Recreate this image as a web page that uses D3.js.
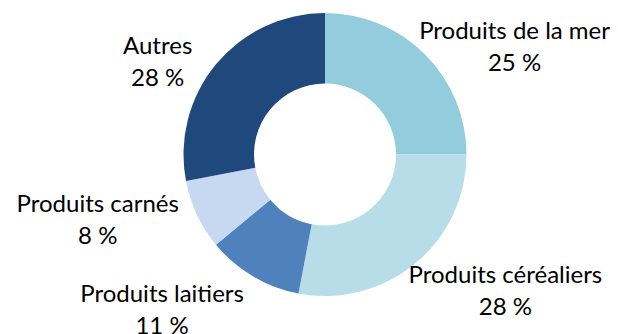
<!DOCTYPE html>
<html>
<head>
<meta charset="utf-8">
<script src="https://cdn.jsdelivr.net/npm/d3@7"></script>
<style>
  body { margin: 0; background: #fff; }
  svg { display: block; }
</style>
</head>
<body>
<div class="donut"></div>
<script>
var categories = ["Produits de la mer", "Produits céréaliers", "Produits laitiers", "Produits carnés", "Autres"];
var shares = [25, 28, 11, 8, 28];
var labels = ["25 %", "28 %", "11 %", "8 %", "28 %"];
var colors = ["#93CDDD", "#B7DEE8", "#4F81BD", "#C6D9F1", "#1F497D"];

var w = 618;
var h = 334;
var cx = 325, cy = 154.5;
var rOuter = 141.5, rInner = 71;

var svg = d3.select(".donut")
            .append("svg")
            .attr("width", w)
            .attr("height", h);

var g = svg.append("g")
           .attr("transform", `translate(${cx},${cy})`);

var color = d3.scaleOrdinal().domain(categories).range(colors);

var dataset = categories.map(function(c, i) {
    return {name: c, value: shares[i], label: labels[i]};
});

var pie = d3.pie()
            .sort(null)
            .value(function(d) { return d.value; });

var arc = d3.arc().innerRadius(rInner).outerRadius(rOuter);
var labelArc = d3.arc().innerRadius(rOuter + 10).outerRadius(rOuter + 10);

var arcs = pie(dataset);

g.selectAll(".slice")
  .data(arcs)
  .enter()
  .append("path")
  .attr("class", "slice")
  .attr("d", arc)
  .attr("fill", function(d) { return color(d.data.name); });

// small hand tweaks so labels sit where the original put them
var nudge = {
    "Produits de la mer": [-1, -1],
    "Produits céréaliers": [-1, -5],
    "Produits laitiers": [0, 0],
    "Produits carnés": [-5, 0],
    "Autres": [-12, 4]
};
var lineGap = 32;

var lbl = g.selectAll(".lbl")
  .data(arcs)
  .enter()
  .append("text")
  .attr("class", "lbl")
  .attr("text-anchor", "middle")
  .style("font-family", "Lato, 'Open Sans', sans-serif")
  .style("font-size", "24px")
  .attr("fill", "#000");

lbl.append("tspan").attr("class", "l1").text(function(d) { return d.data.name; });
lbl.append("tspan").attr("class", "l2").text(function(d) { return d.data.label; });

lbl.each(function(d) {
    var t = d3.select(this);
    var bw = t.select(".l1").node().getComputedTextLength();
    var p = labelArc.centroid(d);
    var mid = (d.startAngle + d.endAngle) / 2;
    var side = Math.sin(mid) >= 0 ? 1 : -1;
    var x = p[0] + side * (bw / 2 - 12 * (side > 0 ? 1 : 0)) + (side < 0 ? -4 : 0);
    var b1;
    if (Math.cos(mid) < -0.7) {
        b1 = p[1] + 17;           // bottom labels hang below the anchor
    } else {
        b1 = p[1] - 7.5;          // the rest are centred on it
    }
    var n = nudge[d.data.name];
    x += n[0];
    b1 += n[1];
    t.select(".l1").attr("x", x).attr("y", b1);
    t.select(".l2").attr("x", x).attr("y", b1 + lineGap);
});
</script>
</body>
</html>
